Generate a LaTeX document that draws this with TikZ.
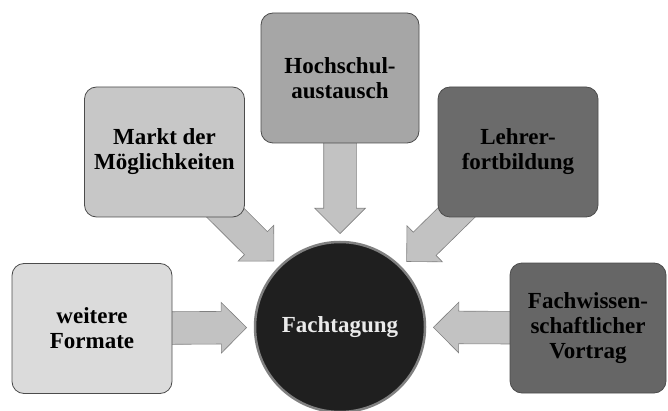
\documentclass[tikz,border=0pt]{standalone}
\usepackage{fontspec}
\setmainfont{Liberation Serif}
\usetikzlibrary{shapes.arrows, backgrounds}

\begin{document}
\begin{tikzpicture}[
      x=1pt, y=-1pt,
      box/.style={draw=black!70, line width=0.8pt, rounded corners=12pt,
                  minimum width=160pt, minimum height=130pt, align=center,
                  font=\bfseries\fontsize{23}{25}\selectfont},
      hub/.style={circle, draw=black!50, line width=2.5pt, fill=black!88,
                  minimum size=170pt, outer sep=8pt, text=white!92!black,
                  font=\bfseries\fontsize{23}{25}\selectfont},
      fat/.style={single arrow, draw=black!50, fill=black!24, line width=0.6pt,
                  inner sep=16pt, single arrow head extend=9pt,
                  sloped, allow upside down, anchor=tip, pos=1},
    ]
    \useasboundingbox (0,0) rectangle (668,411);

    % ── centre ──
    \node[hub] (fach) at (340,327) {Fachtagung};

    % ── formats around it ──
    \node[box, fill=black!14] (form) at (92,328.5) {weitere\\Formate};
    \node[box, fill=black!22] (markt) at (164.5,152) {Markt der\\Möglichkeiten};
    \node[box, fill=black!35, minimum width=158pt] (hoch) at (340,78) {Hochschul-\\austausch};
    \node[box, fill=black!58] (lehrer) at (518,152) {Lehrer-\\fortbildung};
    \node[box, fill=black!60, minimum width=156pt] (vortrag) at (588,328)
          {Fachwissen-\\schaftlicher\\Vortrag};

    % ── block arrows, tails hidden under the boxes ──
    \begin{scope}[on background layer]
      \path (form) -- node[fat, minimum height=85pt]{} (fach);
      \path (markt) -- node[fat, minimum height=85pt]{} (fach);
      \path (hoch) -- node[fat, minimum height=100pt]{} (fach);
      \path (lehrer) -- node[fat, minimum height=85pt]{} (fach);
      \path (vortrag) -- node[fat, minimum height=85pt]{} (fach);
    \end{scope}
  \end{tikzpicture}
\end{document}
